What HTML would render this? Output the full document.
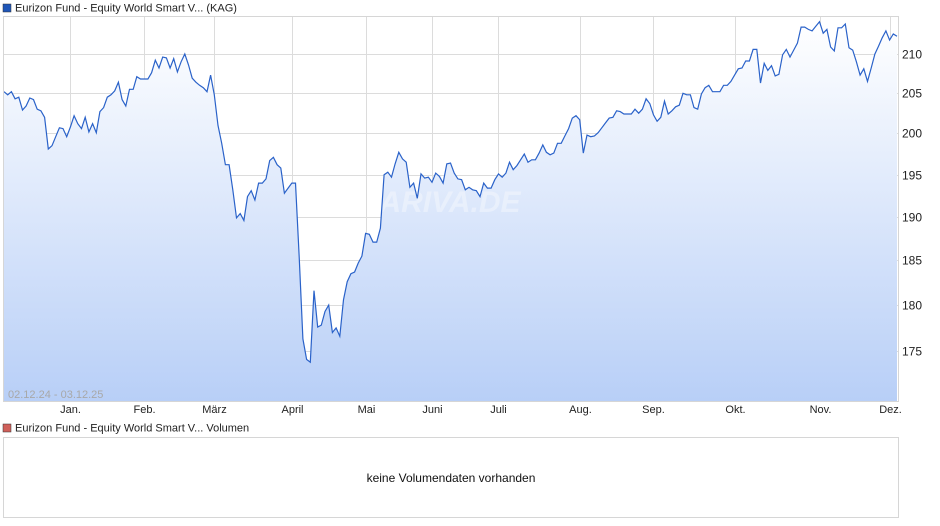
<!DOCTYPE html>
<html><head><meta charset="utf-8">
<style>
body{margin:0;background:#fff;font-family:"Liberation Sans",sans-serif;}
#wrap{position:relative;width:940px;height:526px;overflow:hidden;}
svg text{font-family:"Liberation Sans",sans-serif;}
</style></head>
<body>
<div id="wrap">
<svg id="chart" width="940" height="526">
<defs>
<linearGradient id="fillg" x1="0" y1="0" x2="0" y2="1">
<stop offset="0" stop-color="#ffffff"/>
<stop offset="1" stop-color="#b8cff7"/>
</linearGradient>
</defs>
<rect x="3" y="4" width="8" height="8" fill="#1f56b8" stroke="#333" stroke-width="0.5"/>
<text x="15" y="11.5" font-size="11" fill="#222">Eurizon Fund - Equity World Smart V... (KAG)</text>
<g id="grid"></g>
<path id="area" fill="url(#fillg)"/>
<text x="450" y="212" font-size="30" font-style="italic" font-weight="bold" fill="#ffffff" fill-opacity="0.35" text-anchor="middle">ARIVA.DE</text>
<path id="line" fill="none" stroke="#2a62c9" stroke-width="1.2"/>
<rect x="3.5" y="16.5" width="895" height="385" fill="none" stroke="#d6d6d6"/>
<g id="yticks"></g>
<g id="xticks"></g>
<text x="8" y="398" font-size="11" fill="#a8a8a8">02.12.24 - 03.12.25</text>
<rect x="3" y="424" width="8" height="8" fill="#d0605a" stroke="#333" stroke-width="0.5"/>
<text x="15" y="431.5" font-size="11" fill="#222">Eurizon Fund - Equity World Smart V... Volumen</text>
<rect x="3.5" y="437.5" width="895" height="80" fill="#fff" stroke="#d6d6d6"/>
<text x="451" y="482" font-size="12" fill="#111" text-anchor="middle">keine Volumendaten vorhanden</text>
</svg>
</div>
<script>
const prices = [205.2,204.8,205.2,204.3,204.5,202.9,203.4,204.4,204.2,203.0,
202.8,202.0,198.1,198.5,199.6,200.7,200.6,199.6,200.8,202.2,
201.2,200.6,202.0,200.2,201.2,200.1,202.7,203.2,204.5,204.8,
205.3,206.4,204.2,203.4,205.5,205.5,207.1,206.8,206.8,206.8,
207.6,209.2,208.2,209.6,209.5,208.2,209.4,207.7,209.0,210.0,
208.6,206.9,206.4,206.0,205.7,205.2,207.3,204.8,201.0,198.8,
196.2,196.2,193.2,189.9,190.4,189.6,192.4,193.1,192.0,194.0,
194.0,194.5,196.7,197.1,196.2,195.8,192.8,193.4,194.0,194.0,
185.4,176.3,174.1,173.8,181.6,177.6,177.8,179.3,180.0,177.0,
177.5,176.6,180.6,182.6,183.5,183.7,184.7,185.5,188.1,188.0,
187.1,187.1,188.7,195.0,195.3,194.7,196.3,197.7,196.9,196.5,
193.5,194.0,192.2,195.1,194.6,194.7,194.1,195.2,194.8,194.0,
196.3,196.4,195.2,194.5,
194.4,193.2,193.5,193.2,193.1,192.4,194.0,193.4,193.4,194.4,
195.1,194.7,195.2,196.5,195.6,196.1,196.8,197.5,196.5,196.8,
196.8,197.6,198.6,197.7,197.4,197.6,198.8,198.8,199.7,200.6,
201.9,202.2,201.7,197.6,199.8,199.6,199.7,200.1,200.7,201.3,
201.9,202.0,202.8,202.7,202.4,202.4,202.4,203.0,202.5,203.0,
204.3,203.7,202.3,201.5,202.0,204.0,202.4,202.8,203.3,203.5,
205.0,204.8,204.8,203.2,203.0,204.9,205.7,206.0,205.2,205.2,
205.2,206.0,206.0,206.5,207.3,208.1,208.2,209.1,209.1,210.6,
210.6,206.3,208.8,207.9,208.5,207.2,207.4,209.9,210.6,209.6,
210.5,211.4,213.5,213.5,213.2,213.0,213.6,214.2,212.7,213.2,
210.9,210.4,213.4,213.4,213.9,210.8,210.5,209.0,207.3,208.1,
206.5,208.2,210.0,211.0,212.1,213.0,211.8,212.6,212.3];
const yTicks = [175,180,185,190,195,200,205,210];
const monthLabels = ["Jan.","Feb.","März","April","Mai","Juni","Juli","Aug.","Sep.","Okt.","Nov.","Dez."];
const monthIndex = [18,38,57,78,98,116,134,156,176,198,221,240];

const X0=4, X1=897, TOP=16.5, BOT=401;
function xs(i){return X0+(X1-X0)*i/(prices.length-1);}
function ys(v){return 54+(Math.log(210)-Math.log(v))*1629;}
const NS="http://www.w3.org/2000/svg";
const grid=document.getElementById('grid');
const yg=document.getElementById('yticks');
const xg=document.getElementById('xticks');
yTicks.forEach(t=>{
  const y=Math.round(ys(t))+0.5;
  const l=document.createElementNS(NS,'line');
  l.setAttribute('x1',4);l.setAttribute('x2',898);l.setAttribute('y1',y);l.setAttribute('y2',y);
  l.setAttribute('stroke','#dcdcdc');
  
  
  grid.appendChild(l);
  const tx=document.createElementNS(NS,'text');
  tx.setAttribute('x',902);tx.setAttribute('y',y+4);tx.setAttribute('font-size','12');tx.setAttribute('fill','#222');
  tx.textContent=t;
  
  
  yg.appendChild(tx);
});
monthIndex.forEach((idx,k)=>{
  const x=Math.round(xs(idx))+0.5;
  const l=document.createElementNS(NS,'line');
  l.setAttribute('x1',x);l.setAttribute('x2',x);l.setAttribute('y1',TOP);l.setAttribute('y2',BOT);
  l.setAttribute('stroke','#dcdcdc');
  
  
  grid.appendChild(l);
  const tx=document.createElementNS(NS,'text');
  tx.setAttribute('x',x);tx.setAttribute('y',413);tx.setAttribute('font-size','11');tx.setAttribute('fill','#222');
  tx.setAttribute('text-anchor','middle');
  tx.textContent=monthLabels[k];
  
  
  xg.appendChild(tx);
});
let d='';
prices.forEach((v,i)=>{d+=(i?'L':'M')+xs(i).toFixed(1)+','+ys(v).toFixed(1);});
document.getElementById('line').setAttribute('d',d);
document.getElementById('area').setAttribute('d',d+'L'+xs(prices.length-1).toFixed(1)+','+BOT+'L'+X0+','+BOT+'Z');
</script>
</body></html>
